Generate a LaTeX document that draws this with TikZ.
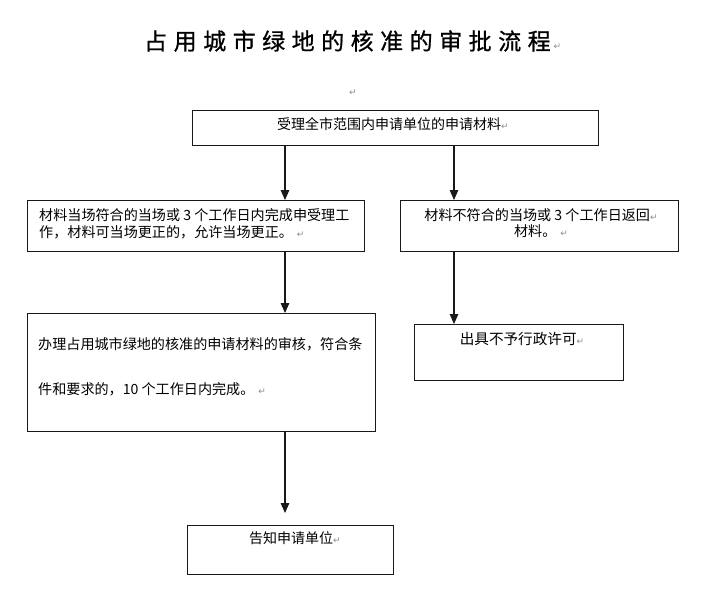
\documentclass[tikz,border=0pt]{standalone}
\usepackage{fontspec}
\newfontfamily\cjk{Noto Sans CJK SC}
\newfontfamily\cjktitle{Noto Sans CJK SC}[FakeBold=0.8]
\newfontfamily\dvs{DejaVu Sans}
\usetikzlibrary{arrows.meta,calc}
\newcommand\parmk{{\dvs\color{black!45}\fontsize{9}{9}\selectfont ↵}}
\begin{document}
\begin{tikzpicture}[x=1pt,y=-1pt,
  box/.style={draw=black!90, line width=1.2pt, rectangle, inner sep=0pt, anchor=north west},
  txt/.style={inner sep=0pt, anchor=west, font=\cjk\fontsize{14}{16}\selectfont, text=black},
  txts/.style={txt, font=\cjk\fontsize{14.1}{16}\selectfont},
  arr/.style={draw=black!90, line width=1.2pt, -{Triangle[length=10pt,width=8.5pt]}}]
\fill[white] (0,0) rectangle (710,611);
\useasboundingbox (0,0) rectangle (710,611);

% title
\node[inner sep=0pt, anchor=west, font=\cjktitle\fontsize{23}{23}\selectfont] (title) at (144,41)
  {占\hspace{6.5pt}用\hspace{6.5pt}城\hspace{6.5pt}市\hspace{6.5pt}绿\hspace{6.5pt}地\hspace{6.5pt}的\hspace{6.5pt}核\hspace{6.5pt}准\hspace{6.5pt}的\hspace{6.5pt}审\hspace{6.5pt}批\hspace{6.5pt}流\hspace{6.5pt}程\hspace{3pt}\parmk};
\node[inner sep=0pt] (mk0) at (353,93) {\parmk};

% boxes
\node[box, minimum width=406pt, minimum height=35pt] (b1) at (192,110) {};
\node[box, minimum width=337pt, minimum height=51pt] (b2l) at (27,200) {};
\node[box, minimum width=278pt, minimum height=51pt] (b2r) at (400,200) {};
\node[box, minimum width=348pt, minimum height=118pt] (b3) at (27,313) {};
\node[box, minimum width=209pt, minimum height=56pt] (b4) at (414,324) {};
\node[box, minimum width=206pt, minimum height=49pt] (b5) at (187,525) {};

% texts
\node[txt] (t1) at (277,124) {受理全市范围内申请单位的申请材料\parmk};
\node[txts] (t2a) at (39,215) {材料当场符合的当场或 3 个工作日内完成申受理工};
\node[txts] (t2b) at (39,232) {作，材料可当场更正的，允许当场更正。\hspace{4pt}\parmk};
\node[txts, anchor=center] (t3a) at (541,215) {材料不符合的当场或 3 个工作日返回\parmk};
\node[txts, anchor=center] (t3b) at (541,231) {材料。\hspace{4pt}\parmk};
\node[txt, font=\cjk\fontsize{14.1}{16}\selectfont] (t4a) at (38,344) {办理占用城市绿地的核准的申请材料的审核，符合条};
\node[txt, font=\cjk\fontsize{14.1}{16}\selectfont] (t4b) at (38,389) {件和要求的，10 个工作日内完成。\hspace{4pt}\parmk};
\node[txt, anchor=center, font=\cjk\fontsize{14.6}{16}\selectfont] (t5) at (522,339) {出具不予行政许可\parmk};
\node[txt, anchor=center] (t6) at (295,538) {告知申请单位\parmk};

% columns
\coordinate (colL) at (285,0);
\coordinate (colR) at (454,0);
\coordinate (end5) at (285,513);

% arrows
\draw[arr] (b1.south -| colL) -- (b2l.north -| colL);
\draw[arr] (b1.south -| colR) -- (b2r.north -| colR);
\draw[arr] (b2l.south -| colL) -- (b3.north -| colL);
\draw[arr] (b2r.south -| colR) -- (b4.north -| colR);
\draw[arr] (b3.south -| colL) -- (end5);
\end{tikzpicture}
\end{document}
